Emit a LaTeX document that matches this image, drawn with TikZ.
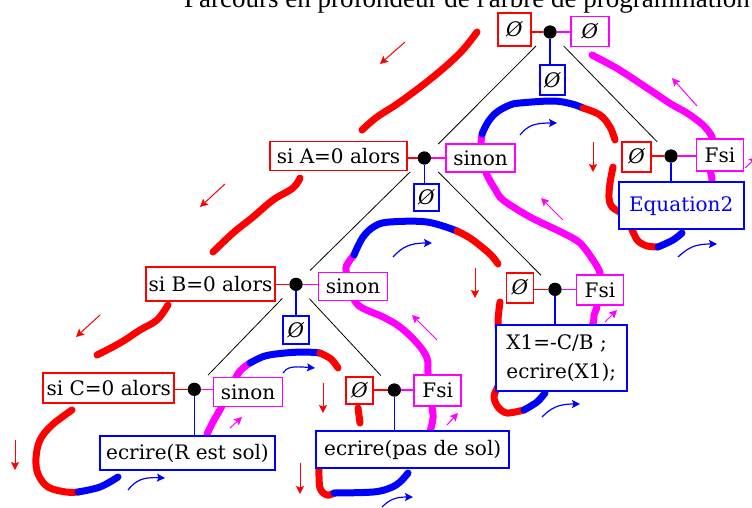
\documentclass[tikz,border=0pt]{standalone}
\usepackage{fontspec}
\setmainfont{DejaVu Serif}
\newfontfamily\titlefont{Liberation Serif}
\usetikzlibrary{arrows.meta}
\definecolor{rr}{RGB}{255,0,0}
\definecolor{mm}{RGB}{255,0,255}
\definecolor{bb}{RGB}{0,0,255}
\begin{document}
\begin{tikzpicture}[x=1pt,y=-1pt,
  box/.style={draw, line width=1.8pt, fill=white, inner sep=0pt, font=\fontsize{20}{24}\selectfont, text=black},
  rbox/.style={box, draw=rr},
  mbox/.style={box, draw=mm},
  bbox/.style={box, draw=bb},
  sz/.style 2 args={minimum width=#1pt, minimum height=#2pt},
  dotn/.style={circle, fill=black, inner sep=0pt, minimum size=13pt},
  treeline/.style={black, line width=0.8pt, shorten <=13pt, shorten >=13pt},
  rlink/.style={rr, line width=1.5pt},
  mlink/.style={mm, line width=1.5pt},
  blink/.style={bb, line width=1.5pt},
  rs/.style={rr, line width=7pt, line cap=round, line join=round},
  ms/.style={mm, line width=7pt, line cap=round, line join=round},
  bs/.style={bb, line width=7pt, line cap=round, line join=round},
  tip/.style={-{Stealth[length=8pt,width=8pt,inset=1.5pt]}},
  ra/.style={tip, rr, line width=1pt},
  ma/.style={tip, mm, line width=1pt},
  ba/.style={tip, bb, line width=1.2pt},
]
\useasboundingbox (0,0) rectangle (752,507);
\clip (0,0) rectangle (752,507);

% title (cut by the top edge)
\node[anchor=base west, inner sep=0pt, font=\titlefont\fontsize{27}{30}\selectfont] (title) at (184,7.5) {Parcours en profondeur de l'arbre de programmation};

% ---------- thick traversal strokes ----------
% red descent on the left
\draw[rs] plot[smooth, tension=0.6] coordinates {(477,32) (460,53) (433,77) (400,102) (377,117) (362,130)};
\draw[rs] plot[smooth, tension=0.6] coordinates {(300,178) (293,188) (273,200) (253,217) (233,233) (213,252)};
\draw[rs] plot[smooth, tension=0.6] coordinates {(168,305) (157,320) (140,330) (120,343) (97,355)};
% around leaf C
\draw[rs] plot[smooth, tension=0.6] coordinates {(72,410) (52,425) (40,440) (36,458) (38,474) (48,487) (66,492) (78,492)};
\draw[bs] plot[smooth, tension=0.6] coordinates {(78,492) (100,487) (118,477)};
\draw[ms] plot[smooth, tension=0.6] coordinates {(207,434) (214,420) (222,406) (232,385) (240,371) (250,363)};
\draw[bs] plot[smooth, tension=0.6] coordinates {(250,363) (265,356) (285,353) (305,352) (320,353)};
\draw[rs] plot[smooth, tension=0.6] coordinates {(320,353) (331,359) (338,368)};
% around leaf D
\draw[rs] (358,408) -- (360,423);
\draw[rs] plot[smooth, tension=0.6] coordinates {(319,469) (320,488) (327,495) (334,493)};
\draw[bs] plot[smooth, tension=0.6] coordinates {(334,493) (373,492) (390,488) (400,482) (408,473)};
\draw[ms] plot[smooth, tension=0.6] coordinates {(430,432) (433,418) (432,407) (430,390) (428,373) (427,358) (417,343) (400,327) (383,317) (358,305) (350,287) (346,270) (348,263) (354,255)};
% around B / E
\draw[bs] plot[smooth, tension=0.6] coordinates {(354,255) (363,237) (375,226) (390,222) (427,222) (457,231)};
\draw[rs] plot[smooth, tension=0.6] coordinates {(457,231) (470,238) (483,248) (492,256) (498,264)};
\draw[rs] plot[smooth, tension=0.5] coordinates {(500,302) (498,322) (500,350) (500,380) (494,396) (498,407) (507,413) (524,410)};
\draw[bs] plot[smooth, tension=0.6] coordinates {(524,410) (537,402) (545,393)};
\draw[ms] plot[smooth, tension=0.5] coordinates {(547,385) (575,350) (592,326) (594,315) (597,306) (598,285) (600,273) (593,260) (580,243) (563,233) (530,217) (503,200) (495,189) (487,175) (483,160) (481,145) (482,134)};
% around A / F
\draw[bs] plot[smooth, tension=0.6] coordinates {(482,134) (488,122) (497,112) (510,105) (520,103) (553,101) (572,104) (583,108)};
\draw[rs] plot[smooth, tension=0.6] coordinates {(583,108) (600,115) (610,127) (615,140)};
\draw[rs] plot[smooth, tension=0.5] coordinates {(613,167) (610,183) (609,198) (612,207) (624,215) (630,225) (633,232) (638,241) (647,246) (658,247)};
\draw[bs] plot[smooth, tension=0.6] coordinates {(658,247) (673,240) (682,233)};
\draw[ms] plot[smooth, tension=0.5] coordinates {(684,225) (705,200) (712,183) (710,167) (712,150) (712,137) (703,125) (687,113) (671,104) (647,88) (618,69) (592,55)};

% ---------- thin arrows ----------
\draw[ra] (405,42) -- (380,64);
\draw[ra] (225,184) -- (200,207);
\draw[ra] (100,315) -- (76,337);
\draw[ra] (593,142) -- (593,172);
\draw[ra] (475,268) -- (475,298);
\draw[ra] (323,383) -- (323,413);
\draw[ra] (15,440) -- (15,470);
\draw[ra] (300,463) -- (300,494);
\draw[ma] (697,106) -- (672,78);
\draw[ma] (563,220) -- (541,198);
\draw[ma] (437,340) -- (412,315);
\draw[ma] (605,322) -- (617,310);
\draw[ma] (447,425) -- (458,413);
\draw[ma] (230,428) -- (242,417);
\draw[ma] (745,168) -- (757,157);
\draw[ba] (678,257) .. controls (688,248) and (694,244) .. (717,244);
\draw[ba] (542,417) .. controls (551,408) and (558,404) .. (580,404);
\draw[ba] (520,135) .. controls (528,125) and (535,123) .. (557,123);
\draw[ba] (393,257) .. controls (402,247) and (410,243) .. (432,243);
\draw[ba] (283,373) .. controls (287,367) and (292,366) .. (315,368);
\draw[ba] (128,490) .. controls (136,480) and (143,477) .. (165,478);
\draw[ba] (382,507) .. controls (389,500) and (395,497) .. (413,497);

% ---------- nodes ----------
% top
\node[rbox, sz={33}{33}] (zT) at (514.5,29.5) {\textit{Ø}};
\node[dotn] (dT) at (550,32) {};
\node[mbox, sz={38}{30}] (mT) at (590,31.4) {\textit{Ø}};
\node[bbox, sz={25}{30}] (bT) at (552.5,80) {\textit{Ø}};
% A
\node[rbox, sz={137}{29}] (siA) at (338.5,156) {si A=0 alors};
\node[dotn] (dA) at (424.3,158) {};
\node[mbox, sz={69}{28}] (snA) at (480.5,158) {sinon};
\node[bbox, sz={25}{27}] (bA) at (426.5,197.5) {\textit{Ø}};
% B
\node[rbox, sz={129}{34}] (siB) at (210.5,284) {si B=0 alors};
\node[dotn] (dB) at (296,284.3) {};
\node[mbox, sz={69}{28}] (snB) at (353,286.5) {sinon};
\node[bbox, sz={26}{28}] (bB) at (296,330) {\textit{Ø}};
% C
\node[rbox, sz={131}{30}] (siC) at (108.8,388.3) {si C=0 alors};
\node[dotn] (dC) at (194.3,389.3) {};
\node[mbox, sz={69}{29}] (snC) at (248,392) {sinon};
\node[bbox, sz={175}{34}] (eR) at (187.5,453) {ecrire(R est sol)};
% D
\node[rbox, sz={27}{27}] (zD) at (359.7,390.3) {\textit{Ø}};
\node[dotn] (dD) at (394.3,390) {};
\node[mbox, sz={47}{31}] (fD) at (437.7,390.3) {Fsi};
\node[bbox, sz={193}{37}] (eP) at (412.7,449.5) {ecrire(pas de sol)};
% E
\node[rbox, sz={27}{30}] (zE) at (520,287.7) {\textit{Ø}};
\node[dotn] (dE) at (555,289.3) {};
\node[mbox, sz={47}{30}] (fE) at (600,290) {Fsi};
\node[bbox, sz={131}{66}, align=left, font=\fontsize{20}{28.7}\selectfont] (X) at (561.3,357.8) {X1=-C/B ;\\ecrire(X1);};
% F
\node[rbox, sz={29}{30}] (zF) at (636.7,156.7) {\textit{Ø}};
\node[dotn] (dF) at (671,156) {};
\node[mbox, sz={47}{32}] (fF) at (720,155) {Fsi};
\node[bbox, sz={125}{47}, text=bb] (eq) at (681.2,205.7) {Equation2};

% ---------- tree lines ----------
\draw[treeline] (dT) -- (dA);
\draw[treeline] (dT) -- (dF);
\draw[treeline] (dA) -- (dB);
\draw[treeline] (dA) -- (dE);
\draw[treeline] (dB) -- (dC);
\draw[treeline] (dB) -- (dD);

% ---------- links dot -> boxes ----------
\foreach \r/\d in {zT/dT, siA/dA, siB/dB, siC/dC, zD/dD, zE/dE, zF/dF}
  \draw[rlink] (\d -| \r.east) -- (\d);
\foreach \d/\m in {dT/mT, dA/snA, dB/snB, dC/snC, dD/fD, dE/fE, dF/fF}
  \draw[mlink] (\d) -- (\d -| \m.west);
\foreach \d/\b in {dT/bT, dA/bA, dB/bB, dC/eR, dD/eP, dE/X, dF/eq}
  \draw[blink] (\d) -- (\d |- \b.north);
% redraw dots on top of links
\foreach \d in {dT,dA,dB,dC,dD,dE,dF}
  \fill (\d) circle (6.5pt);
\end{tikzpicture}
\end{document}
